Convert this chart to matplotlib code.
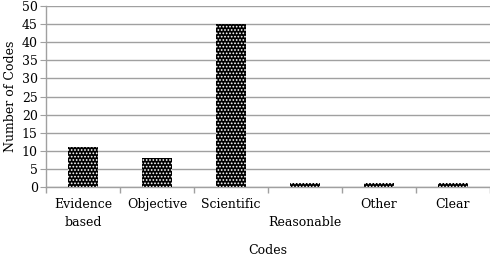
import matplotlib.pyplot as plt
import numpy as np

# Datos del gráfico
categorias = ["Evidence\nbased", "Objective", "Scientific", "\nReasonable", "Other", "Clear"]
valores = [11, 8, 45, 1, 1, 1]

plt.rcParams['font.family'] = ['DejaVu Serif']
plt.rcParams['hatch.linewidth'] = 0.8

fig = plt.figure(figsize=(4.9, 2.58), dpi=100)
ax = fig.add_axes([46 / 490, 1 - 187 / 258, 1 - 46 / 490, 181 / 258])

x = np.arange(len(categorias))
ax.bar(x, valores, width=0.4, color='black', edgecolor='white', hatch='.....', linewidth=0, zorder=3)

ax.set_xlim(-0.5, len(categorias) - 0.5)
ax.set_ylim(0, 50)
ax.set_yticks(range(0, 51, 5))
ax.yaxis.grid(True, color='#a0a0a0', linewidth=1.0, zorder=0)

ax.set_xticks(x)
ax.set_xticklabels(categorias, fontsize=9, linespacing=1.45)
ax.tick_params(axis='x', length=0, pad=8)
ax.set_xticks(np.arange(-0.5, len(categorias), 1), minor=True)
ax.tick_params(axis='x', which='minor', length=4, color='#a0a0a0', width=1)
ax.tick_params(axis='y', labelsize=9, length=4, color='#a0a0a0', pad=2)

for lado in ['top', 'right']:
    ax.spines[lado].set_visible(False)
for lado in ['left', 'bottom']:
    ax.spines[lado].set_color('#a0a0a0')
    ax.spines[lado].set_linewidth(1.0)

ax.set_xlabel('Codes', fontsize=9, labelpad=11)
ax.set_ylabel('Number of Codes', fontsize=9, labelpad=3)

fig.savefig('out.png', dpi=100)
